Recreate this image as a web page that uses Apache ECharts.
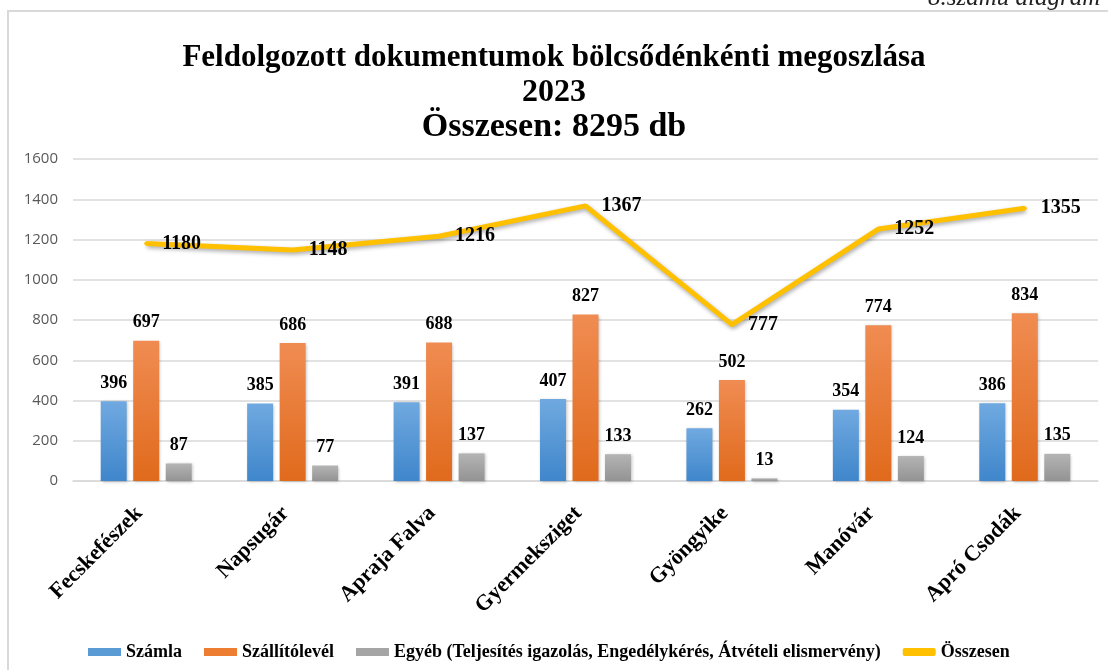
<!DOCTYPE html>
<html>
<head>
<meta charset="utf-8">
<script src="https://cdn.jsdelivr.net/npm/echarts@6/dist/echarts.min.js"></script>
<style>
  html, body { margin: 0; padding: 0; background: #fff; }
  #main { width: 1108px; height: 670px; }
</style>
</head>
<body>
<div id="main"></div>
<script>
const categories = ['Fecskefészek', 'Napsugár', 'Apraja Falva', 'Gyermeksziget', 'Gyöngyike', 'Manóvár', 'Apró Csodák']
const szamla = [396, 385, 391, 407, 262, 354, 386]
const szallito = [697, 686, 688, 827, 502, 774, 834]
const egyeb = [87, 77, 137, 133, 13, 124, 135]
const osszesen = [1180, 1148, 1216, 1367, 777, 1252, 1355]
const yTicks = [0, 200, 400, 600, 800, 1000, 1200, 1400, 1600]

const serif = '"Liberation Serif", "Times New Roman", serif'

function grad(top, bottom) {
    return new echarts.graphic.LinearGradient(0, 0, 0, 1, [
        { offset: 0, color: top },
        { offset: 1, color: bottom }
    ])
}

const barLabel = {
    show: true,
    position: 'top',
    distance: 9,
    fontFamily: serif,
    fontWeight: 'bold',
    fontSize: 18,
    color: '#000'
}

const myChart = echarts.init(document.getElementById('main'))
myChart.setOption({
    animation: false,
    title: {
        text: '{a|Feldolgozott dokumentumok bölcsődénkénti megoszlása}\n{b|2023}\n{c|Összesen: 8295 db}',
        left: 'center',
        top: 35,
        textStyle: {
            fontFamily: serif,
            fontWeight: 'bold',
            color: '#000',
            rich: {
                a: { fontFamily: serif, fontWeight: 'bold', fontSize: 31, lineHeight: 35, color: '#000' },
                b: { fontFamily: serif, fontWeight: 'bold', fontSize: 32, lineHeight: 35, color: '#000' },
                c: { fontFamily: serif, fontWeight: 'bold', fontSize: 34, lineHeight: 35, color: '#000' }
            }
        }
    },
    graphic: [
        {
            type: 'rect',
            shape: { x: 8, y: 11, width: 1200, height: 700 },
            style: { fill: null, stroke: '#d9d9d9', lineWidth: 2 },
            silent: true
        },
        {
            type: 'text',
            left: 928,
            top: -14,
            style: {
                text: '8.számú diagram',
                font: 'italic 25px ' + serif,
                fill: '#222'
            }
        }
    ],
    legend: {
        left: 83,
        top: 638,
        itemWidth: 33,
        itemHeight: 8,
        itemGap: 22,
        textStyle: {
            fontFamily: serif,
            fontWeight: 'bold',
            fontSize: 18,
            color: '#000'
        },
        data: [
            { name: 'Számla', icon: 'rect', itemStyle: { color: '#5b9bd5' } },
            { name: 'Szállítólevél', icon: 'rect', itemStyle: { color: '#ed7d31' } },
            { name: 'Egyéb (Teljesítés igazolás, Engedélykérés, Átvételi elismervény)', icon: 'rect', itemStyle: { color: '#a5a5a5' } },
            { name: 'Összesen', icon: 'roundRect', itemStyle: { color: '#ffc000' } }
        ]
    },
    grid: {
        left: 73,
        right: 10,
        top: 159,
        bottom: 189
    },
    xAxis: {
        type: 'category',
        data: categories,
        axisLine: { lineStyle: { color: '#d9d9d9', width: 1.5 } },
        axisTick: { show: false },
        axisLabel: {
            rotate: 45,
            margin: 22,
            padding: [0, 10, 0, 0],
            interval: 0,
            fontFamily: serif,
            fontWeight: 'bold',
            fontSize: 22,
            color: '#000'
        }
    },
    yAxis: {
        type: 'value',
        min: yTicks[0],
        max: yTicks[yTicks.length - 1],
        interval: 200,
        axisLine: { show: false },
        axisTick: { show: false },
        splitLine: { lineStyle: { color: '#d9d9d9', width: 1.5 } },
        axisLabel: {
            margin: 15,
            fontFamily: '"Open Sans", "Liberation Sans", sans-serif',
            fontSize: 15,
            color: '#595959',
            formatter: function (v) { return String(v) }
        }
    },
    series: [
        {
            name: 'Számla',
            type: 'bar',
            data: szamla,
            barWidth: 26,
            barGap: '25%',
            itemStyle: {
                color: grad('#70a9e0', '#3f86cb'),
                shadowBlur: 3,
                shadowColor: 'rgba(0,0,0,0.25)',
                shadowOffsetX: 1,
                shadowOffsetY: 1
            },
            label: barLabel
        },
        {
            name: 'Szállítólevél',
            type: 'bar',
            data: szallito,
            barWidth: 26,
            barGap: '25%',
            itemStyle: {
                color: grad('#f08c52', '#e06a1c'),
                shadowBlur: 3,
                shadowColor: 'rgba(0,0,0,0.25)',
                shadowOffsetX: 1,
                shadowOffsetY: 1
            },
            label: barLabel
        },
        {
            name: 'Egyéb (Teljesítés igazolás, Engedélykérés, Átvételi elismervény)',
            type: 'bar',
            data: egyeb,
            barWidth: 26,
            barGap: '25%',
            itemStyle: {
                color: grad('#b4b4b4', '#939393'),
                shadowBlur: 3,
                shadowColor: 'rgba(0,0,0,0.25)',
                shadowOffsetX: 1,
                shadowOffsetY: 1
            },
            label: barLabel
        },
        {
            name: 'Összesen',
            type: 'line',
            data: osszesen,
            symbol: 'circle',
            symbolSize: 4,
            showAllSymbol: true,
            z: 5,
            lineStyle: {
                color: '#ffc000',
                width: 5,
                shadowBlur: 4,
                shadowColor: 'rgba(0,0,0,0.35)',
                shadowOffsetX: 1,
                shadowOffsetY: 2
            },
            itemStyle: { color: '#ffc000' },
            label: {
                show: true,
                position: 'right',
                distance: 14,
                fontFamily: serif,
                fontWeight: 'bold',
                fontSize: 20,
                color: '#000'
            },
            labelLayout: { hideOverlap: false }
        }
    ]
})
</script>
</body>
</html>
